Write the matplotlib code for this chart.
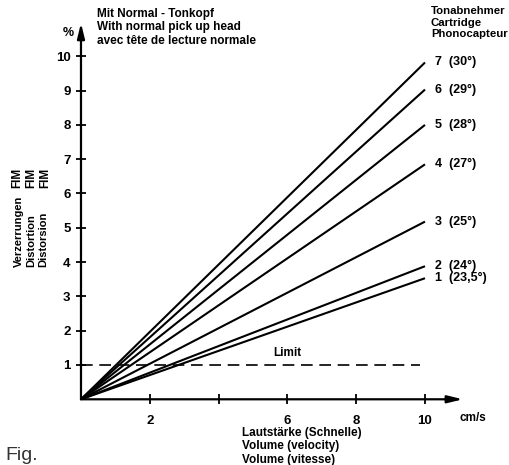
import matplotlib
matplotlib.use("Agg")
import matplotlib.pyplot as plt

plt.rcParams["font.family"] = ["Liberation Sans", "DejaVu Sans"]

# Tonabnehmer / cartridge curves: distortion (%) at 10 cm/s
cartridges = ["1", "2", "3", "4", "5", "6", "7"]
angles = ["23,5°", "24°", "25°", "27°", "28°", "29°", "30°"]
end_x = 10
end_y = [3.53, 3.88, 5.18, 6.85, 8.0, 9.03, 9.82]

limit_y = 1
limit_end = 9.85

xticks = [2, 4, 6, 8, 10]
xtick_labels = ["2", "", "6", "8", "10"]
yticks = [1, 2, 3, 4, 5, 6, 7, 8, 9, 10]

fig = plt.figure(figsize=(5.1, 4.65), dpi=100)
ax = fig.add_axes([0.1588, 0.1413, 0.7757, 0.8077])
ax.set_xlim(0, 11.5)
ax.set_ylim(0, 10.95)

for c, a, y in zip(cartridges, angles, end_y):
    ax.plot([0, end_x], [0, y], color="black", lw=1.5, solid_capstyle="butt")
    ax.text(end_x + 0.28, y, f"{c}  ({a})", fontsize=9, fontweight="bold",
            va="center", ha="left")

ax.plot([0, limit_end], [limit_y, limit_y], color="black", lw=1.2, dashes=[7, 4])
ax.text(6.0, 1.35, "Limit", fontsize=8.5, fontweight="bold", ha="center", va="center")

# axes with arrows
for spine in ax.spines.values():
    spine.set_visible(False)
arrow = dict(arrowstyle="-|>,head_length=0.9,head_width=0.22", color="black",
             lw=1.6, shrinkA=0, shrinkB=0)
ax.annotate("", xy=(11.1, 0), xytext=(0, 0), arrowprops=arrow, annotation_clip=False)
ax.annotate("", xy=(0, 10.97), xytext=(0, 0), arrowprops=arrow, annotation_clip=False)

ax.set_xticks(xticks)
ax.set_xticklabels(xtick_labels)
ax.set_yticks(yticks)
ax.tick_params(direction="inout", length=7, width=1.3, labelsize=9.5, pad=4)
ax.tick_params(axis="x", pad=8)
for lab in ax.get_xticklabels() + ax.get_yticklabels():
    lab.set_fontweight("bold")

ax.text(-0.2, 10.68, "%", fontsize=9, fontweight="bold", ha="right", va="center")
ax.text(11.0, -0.55, "cm/s", fontsize=8.5, fontweight="bold", ha="left", va="center")

fig.text(97 / 510, 1 - 8 / 465,
         "Mit Normal - Tonkopf\nWith normal pick up head\navec tête de lecture normale",
         fontsize=8.5, fontweight="bold", ha="left", va="top", linespacing=1.15)
fig.text(431 / 510, 1 - 6 / 465, "Tonabnehmer\nCartridge\nPhonocapteur",
         fontsize=8.2, fontweight="bold", ha="left", va="top", linespacing=1.2)
fig.text(242 / 510, 1 - 427 / 465,
         "Lautstärke (Schnelle)\nVolume (velocity)\nVolume (vitesse)",
         fontsize=8.5, fontweight="bold", ha="left", va="top", linespacing=1.15)

fig.text(31 / 510, 1 - 267 / 465, "Verzerrungen\nDistortion\nDistorsion",
         fontsize=8, fontweight="bold", rotation=90, ha="center", va="bottom",
         multialignment="left", linespacing=1.3)
fig.text(31 / 510, 1 - 168 / 465, "FIM\nFIM\nFIM",
         fontsize=8.5, fontweight="bold", rotation=90, ha="center", va="top",
         multialignment="left", linespacing=1.2)

fig.text(5 / 510, 1 / 465, "Fig.", fontsize=14, color="#333333", ha="left", va="bottom")

fig.savefig("out.png", dpi=100)
